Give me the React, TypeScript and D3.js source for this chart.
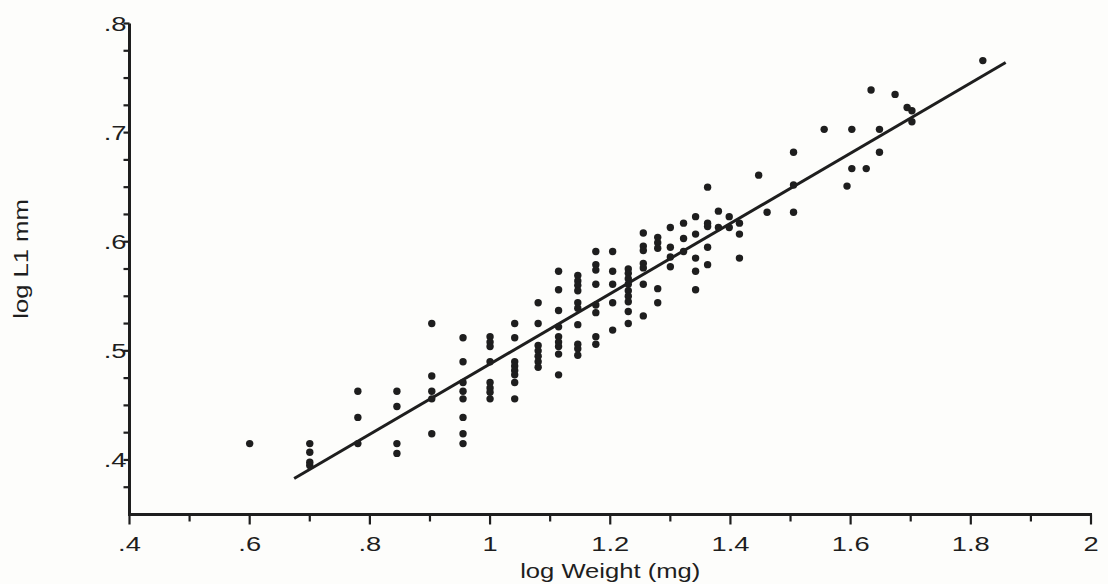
import React from "react";
import * as d3 from "d3";

// x positions (log Weight, mg) of each column of points
const logWeight: number[] = [
  0.6, 0.7, 0.78, 0.845, 0.903, 0.955, 1.0, 1.041, 1.08, 1.114, 1.146, 1.176,
  1.204, 1.23, 1.255, 1.279, 1.3, 1.322, 1.342, 1.362, 1.38, 1.398, 1.415,
  1.447, 1.461, 1.505, 1.556, 1.594, 1.602, 1.626, 1.634, 1.648, 1.674, 1.694,
  1.702, 1.82,
];
// y values (log L1 mm) for each column above
const logL1: number[][] = [
  [0.415],
  [0.415, 0.407, 0.398, 0.395],
  [0.463, 0.439, 0.415],
  [0.463, 0.449, 0.415, 0.406],
  [0.525, 0.477, 0.463, 0.456, 0.424],
  [0.512, 0.49, 0.471, 0.463, 0.456, 0.439, 0.424, 0.415],
  [0.513, 0.508, 0.504, 0.49, 0.471, 0.466, 0.462, 0.456],
  [0.525, 0.512, 0.49, 0.486, 0.482, 0.478, 0.471, 0.456],
  [0.544, 0.525, 0.505, 0.5, 0.495, 0.49, 0.485],
  [0.573, 0.556, 0.537, 0.522, 0.513, 0.508, 0.504, 0.497, 0.478],
  [0.569, 0.564, 0.56, 0.555, 0.544, 0.539, 0.524, 0.506, 0.502, 0.496],
  [0.591, 0.579, 0.574, 0.561, 0.542, 0.535, 0.513, 0.506],
  [0.591, 0.573, 0.561, 0.544, 0.519],
  [0.575, 0.571, 0.566, 0.561, 0.555, 0.55, 0.545, 0.536, 0.525],
  [0.608, 0.596, 0.592, 0.58, 0.576, 0.561, 0.532],
  [0.604, 0.599, 0.594, 0.557, 0.544],
  [0.613, 0.595, 0.586, 0.577],
  [0.617, 0.603, 0.591],
  [0.623, 0.607, 0.585, 0.573, 0.556],
  [0.65, 0.617, 0.614, 0.595, 0.579],
  [0.628, 0.613],
  [0.623, 0.613],
  [0.617, 0.607, 0.585],
  [0.661],
  [0.627],
  [0.682, 0.652, 0.627],
  [0.703],
  [0.651],
  [0.703, 0.667],
  [0.667],
  [0.739],
  [0.703, 0.682],
  [0.735],
  [0.723],
  [0.72, 0.71],
  [0.766],
];

// fitted regression line: logL1 = intercept + slope * logWeight
const fitIntercept = 0.166;
const fitSlope = 0.322;
const fitRange: number[] = [0.674, 1.858];

const xMajorTicks: number[] = [0.4, 0.6, 0.8, 1.0, 1.2, 1.4, 1.6, 1.8, 2.0];
const xTickLabels: string[] = [".4", ".6", ".8", "1", "1.2", "1.4", "1.6", "1.8", "2"];
const xMinorTicks: number[] = [0.5, 0.7, 0.9, 1.1, 1.3, 1.5, 1.7, 1.9];
const yMajorTicks: number[] = [0.4, 0.5, 0.6, 0.7, 0.8];
const yTickLabels: string[] = [".4", ".5", ".6", ".7", ".8"];
const yMinorTicks: number[] = [0.375, 0.425, 0.45, 0.475, 0.525, 0.55, 0.575, 0.625, 0.65, 0.675, 0.725, 0.75, 0.775];

const xTitle = "log Weight (mg)";
const yTitle = "log L1 mm";

const W = 1108;
const H = 584;
const INK = "#1e1e1e";
const FONT = "'Liberation Sans', Arial, Helvetica, sans-serif";
const SX = 1.3;

function WideText(props: {
  x: number;
  y: number;
  rotate?: number;
  anchor: "start" | "middle" | "end";
  size: number;
  sx?: number;
  children: string;
}) {
  const { x, y, rotate = 0, anchor, size, sx = SX, children } = props;
  return (
    <text
      transform={`translate(${x},${y}) rotate(${rotate}) scale(${sx},1)`}
      textAnchor={anchor}
      fontFamily={FONT}
      fontSize={size}
      fill={INK}
    >
      {children}
    </text>
  );
}

export default function App() {
  const x = d3.scaleLinear().domain([0.4, 2.0]).range([129.5, 1091]);
  const y = d3.scaleLinear().domain([0.35, 0.8]).range([514.5, 23.5]);

  const points: { wx: number; ly: number }[] = [];
  logWeight.forEach((wx, i) => logL1[i].forEach((ly) => points.push({ wx, ly })));

  const fitLine = d3
    .line<number>()
    .x((d) => x(d))
    .y((d) => y(fitIntercept + fitSlope * d));

  const x0 = x(0.4);
  const yb = y(0.35);

  return (
    <svg
      width={W}
      height={H}
      style={{ position: "absolute", left: 0, top: 0, background: "#fdfdfb" }}
    >
      <rect x={0} y={0} width={W} height={H} fill="#fdfdfb" />
      {/* axes */}
      <line x1={x0} y1={y(0.8)} x2={x0} y2={yb + 1.5} stroke={INK} strokeWidth={3} />
      <line x1={x0 - 1.5} y1={yb} x2={x(2.0) + 1} y2={yb} stroke={INK} strokeWidth={3} />
      {/* x ticks */}
      {xMajorTicks.map((t, i) => (
        <g key={"xm" + i}>
          <line x1={x(t)} x2={x(t)} y1={yb} y2={yb + 10} stroke={INK} strokeWidth={2.2} />
          <WideText x={x(t)} y={yb + 36} anchor="middle" size={21}>
            {xTickLabels[i]}
          </WideText>
        </g>
      ))}
      {xMinorTicks.map((t, i) => (
        <line key={"xn" + i} x1={x(t)} x2={x(t)} y1={yb} y2={yb + 7} stroke={INK} strokeWidth={2.2} />
      ))}
      {/* y ticks */}
      {yMajorTicks.map((t, i) => (
        <g key={"ym" + i}>
          <line x1={x0} x2={x0 - 6} y1={y(t)} y2={y(t)} stroke={INK} strokeWidth={2.2} />
          <WideText x={x0 - 3} y={y(t) + 7} anchor="end" size={21}>
            {yTickLabels[i]}
          </WideText>
        </g>
      ))}
      {yMinorTicks.map((t, i) => (
        <line key={"yn" + i} x1={x0} x2={x0 - 6} y1={y(t)} y2={y(t)} stroke={INK} strokeWidth={2.2} />
      ))}
      {/* titles */}
      <WideText x={(x0 + x(2.0)) / 2} y={578} anchor="middle" size={21} sx={1.22}>
        {xTitle}
      </WideText>
      <WideText x={28} y={259} rotate={-90} anchor="middle" size={21} sx={1.22}>
        {yTitle}
      </WideText>
      {/* regression line */}
      <path d={fitLine(fitRange) || ""} fill="none" stroke={INK} strokeWidth={3} />
      {/* points */}
      {points.map((p, i) => (
        <circle key={i} cx={x(p.wx)} cy={y(p.ly)} r={3.7} fill={INK} />
      ))}
    </svg>
  );
}
